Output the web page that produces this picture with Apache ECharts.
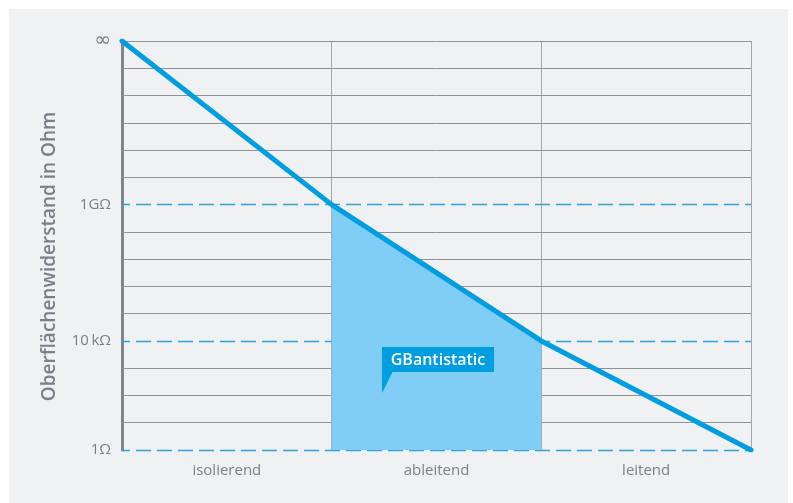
<!DOCTYPE html>
<html><head><meta charset="utf-8">
<script src="https://cdn.jsdelivr.net/npm/echarts@6/dist/echarts.min.js"></script>
<style>html,body{margin:0;padding:0;background:#fff}#c{width:793px;height:503px}</style>
</head><body><div id="c"></div>
<script>
const categories = ['isolierend', 'ableitend', 'leitend'];
const lineX = [0, 1, 2, 3];
const lineY = [15, 9, 4, 0];
const fillX = [1, 2];
const fillY = [9, 4];
const tickLabels = {0: '1Ω', 4: '10\u2009kΩ', 9: '1GΩ', 15: '∞'};
const dashedLevels = [0, 4, 9];
const gridLevels = [1, 2, 3, 5, 6, 7, 8, 10, 11, 12, 13, 14, 15];
const badgeText = 'GBantistatic';

const chart = echarts.init(document.getElementById('c'));
const font = '"Open Sans", Roboto, sans-serif';
chart.setOption({
  animation: false,
  backgroundColor: '#ffffff',
  grid: {left: 122, right: 42, top: 41, bottom: 53},
  xAxis: [{
    type: 'value', min: 0, max: 3, interval: 1,
    axisLine: {show: false}, axisTick: {show: false}, axisLabel: {show: false},
    splitLine: {show: true, lineStyle: {color: '#a3a7ab', width: 1}}
  }, {
    type: 'category', data: categories, position: 'bottom', boundaryGap: true,
    axisLine: {show: false}, axisTick: {show: false}, splitLine: {show: false},
    axisLabel: {color: '#7b8188', fontSize: 15, fontFamily: font, margin: 13}
  }],
  yAxis: {
    type: 'value', min: 0, max: 15, interval: 1,
    name: 'Oberflächenwiderstand in Ohm', nameLocation: 'middle', nameGap: 63,
    nameTextStyle: {color: '#7a8087', fontSize: 19, fontWeight: 600, fontFamily: font, padding: [0, 22, 0, 0]},
    axisLine: {show: true, onZero: false, lineStyle: {color: '#7f858b', width: 3}},
    axisTick: {show: false},
    axisLabel: {color: '#7b8188', fontSize: 15, fontFamily: font, margin: 11,
      formatter: v => v === 15 ? '{inf|' + tickLabels[v] + '}' : (tickLabels[v] !== undefined ? tickLabels[v] : ''),
      rich: {inf: {fontFamily: '"DejaVu Sans", sans-serif', fontSize: 20, color: '#7b8188'}}},
    splitLine: {show: false}
  },
  series: [{
    type: 'line', xAxisIndex: 0, data: [], silent: true, z: 1,
    markLine: {
      silent: true, symbol: 'none', label: {show: false}, z: 1,
      lineStyle: {color: '#8e9398', type: 'solid', width: 1},
      data: gridLevels.map(v => ({yAxis: v}))
    }
  }, {
    type: 'line', xAxisIndex: 0, data: [], silent: true, z: 1,
    markLine: {
      silent: true, symbol: 'none', label: {show: false}, z: 1,
      lineStyle: {color: '#2ea3e0', type: [15, 6], dashOffset: 7, width: 1.4},
      data: dashedLevels.map(v => ({yAxis: v}))
    }
  }, {
    type: 'line', xAxisIndex: 0, z: 10,
    data: fillX.map((x, i) => [x, fillY[i]]),
    showSymbol: false, lineStyle: {width: 0},
    areaStyle: {color: '#80cef5', opacity: 1, origin: 'start'}
  }, {
    type: 'line', xAxisIndex: 0, z: 11,
    data: lineX.map((x, i) => [x, lineY[i]]),
    showSymbol: false,
    lineStyle: {color: '#009de0', width: 5, cap: 'round', join: 'round'}
  }]
});

const p = chart.convertToPixel({xAxisIndex: 0, yAxisIndex: 0}, [1, 0]);
const bx = Math.round(p[0] + 50), by = 347;
chart.setOption({
  graphic: [{
    type: 'rect', z: -100, silent: true,
    shape: {x: 9, y: 9, width: 779, height: 494},
    style: {fill: '#f0f1f3'}
  }, {
    type: 'rect', z: 100, silent: true, shape: {x: bx, y: by, width: 112, height: 25},
    style: {fill: '#009de0'}
  }, {
    type: 'polygon', z: 100, silent: true,
    shape: {points: [[bx, by + 24], [bx + 11, by + 24], [bx, by + 46]]},
    style: {fill: '#009de0'}
  }, {
    type: 'text', z: 101, silent: true, x: bx + 56, y: by + 13,
    style: {text: badgeText, fill: '#ffffff', font: '600 16px ' + font, align: 'center', verticalAlign: 'middle'}
  }]
});
</script></body></html>
